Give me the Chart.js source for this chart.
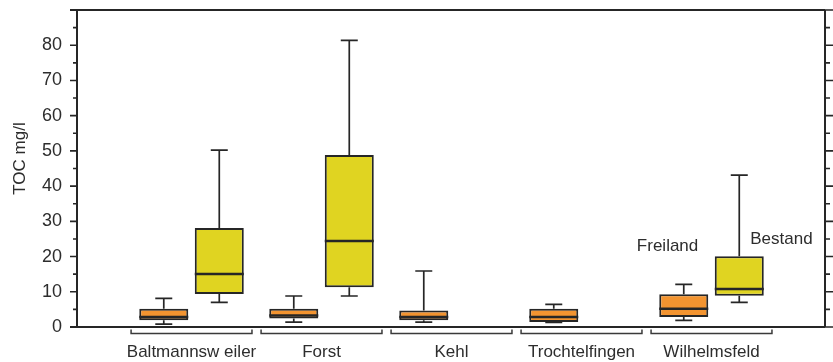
<!DOCTYPE html>
<html>
<head>
<meta charset="utf-8">
<script src="https://cdn.jsdelivr.net/npm/chart.js@4"></script>
<style>
  body { margin: 0; background: #fff; }
  #wrap { width: 833px; height: 362px; }
</style>
</head>
<body>
<div id="wrap"><canvas id="tocChart"></canvas></div>
<script>
// ================================
// DATA
// ================================

const categories = ["Baltmannsw eiler", "Forst", "Kehl", "Trochtelfingen", "Wilhelmsfeld"];

const freilandMin    = [0.8, 1.4, 1.4, 1.3, 1.9];
const freilandQ1     = [1.9, 2.4, 1.9, 1.4, 2.85];
const freilandMedian = [2.85, 3.3, 2.85, 2.85, 5.2];
const freilandQ3     = [5.2, 5.2, 4.7, 5.2, 9.3];
const freilandMax    = [8.1, 8.8, 15.9, 6.4, 12.1];

const bestandMin    = [7.0, 8.8, null, null, 7.0];
const bestandQ1     = [9.4, 11.3, null, null, 8.9];
const bestandMedian = [15.05, 24.4, null, null, 10.8];
const bestandQ3     = [28.1, 48.8, null, null, 20.1];
const bestandMax    = [50.2, 81.4, null, null, 43.1];

const yTickLabels = [0, 10, 20, 30, 40, 50, 60, 70, 80];

const stats = [
    { min: freilandMin, med: freilandMedian, max: freilandMax },
    { min: bestandMin, med: bestandMedian, max: bestandMax }
];

const FONT = "'Liberation Sans', Arial, sans-serif";
const INK = "#262626";
const TEXT = "#2d2d2d";

// ================================
// BOX PLOT PLUGIN
// ================================

const boxPlugin = {
    id: "boxPlot",

    afterDatasetsDraw(chart) {
        const ctx = chart.ctx;
        const y = chart.scales.y;

        ctx.save();
        ctx.strokeStyle = INK;

        stats.forEach((s, d) => {
            const meta = chart.getDatasetMeta(d);
            meta.data.forEach((bar, i) => {
                if (s.med[i] == null) return;
                const raw = chart.data.datasets[d].data[i].y;
                const cx = bar.x;
                const half = bar.width / 2;
                const cap = 8.5;

                // whiskers
                ctx.lineWidth = 1.7;
                ctx.beginPath();
                ctx.moveTo(cx, y.getPixelForValue(raw[1]));
                ctx.lineTo(cx, y.getPixelForValue(s.max[i]));
                ctx.moveTo(cx - cap, y.getPixelForValue(s.max[i]));
                ctx.lineTo(cx + cap, y.getPixelForValue(s.max[i]));
                ctx.moveTo(cx, y.getPixelForValue(raw[0]));
                ctx.lineTo(cx, y.getPixelForValue(s.min[i]));
                ctx.moveTo(cx - cap, y.getPixelForValue(s.min[i]));
                ctx.lineTo(cx + cap, y.getPixelForValue(s.min[i]));
                ctx.stroke();

                // median
                ctx.lineWidth = 2.5;
                ctx.beginPath();
                ctx.moveTo(cx - half, y.getPixelForValue(s.med[i]));
                ctx.lineTo(cx + half, y.getPixelForValue(s.med[i]));
                ctx.stroke();
            });
        });

        ctx.restore();
    },

    afterDraw(chart) {
        const ctx = chart.ctx;
        const a = chart.chartArea;
        const x = chart.scales.x;
        const y = chart.scales.y;

        ctx.save();
        ctx.strokeStyle = INK;

        // frame
        ctx.lineWidth = 2;
        ctx.beginPath();
        ctx.moveTo(a.left - 7, a.top);
        ctx.lineTo(a.right, a.top);
        ctx.moveTo(a.left - 7, a.bottom);
        ctx.lineTo(a.right, a.bottom);
        ctx.moveTo(a.left, a.top);
        ctx.lineTo(a.left, a.bottom);
        ctx.moveTo(a.right, a.top);
        ctx.lineTo(a.right, a.bottom);
        ctx.stroke();

        // tick marks, left and right
        ctx.lineWidth = 1.6;
        ctx.beginPath();
        for (let v = 0; v <= 90; v += 5) {
            const py = y.getPixelForValue(v);
            const major = v % 10 === 0;
            ctx.moveTo(a.left - (major ? 7 : 4), py);
            ctx.lineTo(a.left, py);
            ctx.moveTo(a.right, py);
            ctx.lineTo(a.right + (major ? 8 : 5), py);
        }
        ctx.stroke();

        // group brackets
        ctx.strokeStyle = "#3a3a3a";
        ctx.lineWidth = 1.5;
        ctx.beginPath();
        categories.forEach((c, i) => {
            const x0 = x.getPixelForValue(i - 0.465);
            const x1 = x.getPixelForValue(i + 0.465);
            const by = a.bottom + 6.5;
            ctx.moveTo(x0, by - 4);
            ctx.lineTo(x0, by);
            ctx.lineTo(x1, by);
            ctx.lineTo(x1, by - 4);
        });
        ctx.stroke();

        // axis title
        ctx.fillStyle = TEXT;
        ctx.font = "17px " + FONT;
        ctx.textAlign = "center";
        ctx.textBaseline = "middle";
        ctx.save();
        ctx.translate(20, (a.top + a.bottom) / 2 - 10);
        ctx.rotate(-Math.PI / 2);
        ctx.fillText("TOC mg/l", 0, 0);
        ctx.restore();

        // series labels
        ctx.fillText("Freiland", x.getPixelForValue(3.662), y.getPixelForValue(23.0));
        ctx.fillText("Bestand", x.getPixelForValue(4.538), y.getPixelForValue(24.9));

        ctx.restore();
    }
};

// ================================
// CHART
// ================================

const toPoints = (lo, hi) =>
    categories.map((c, i) => ({
        x: i,
        y: lo[i] == null ? null : [lo[i], hi[i]]
    }));

new Chart(document.getElementById("tocChart"), {
    type: "bar",

    data: {
        datasets: [
            {
                label: "Freiland",
                data: toPoints(freilandQ1, freilandQ3),
                backgroundColor: "#f39430",
                borderColor: INK,
                borderWidth: 2,
                borderSkipped: false
            },
            {
                label: "Bestand",
                data: toPoints(bestandQ1, bestandQ3),
                backgroundColor: "#e0d421",
                borderColor: INK,
                borderWidth: 2,
                borderSkipped: false
            }
        ]
    },

    options: {
        responsive: true,
        maintainAspectRatio: false,
        animation: false,
        categoryPercentage: 0.854,
        barPercentage: 0.883,

        layout: {
            padding: { top: 10, right: 8, left: 0, bottom: 0 }
        },

        plugins: {
            legend: { display: false },
            tooltip: { enabled: false }
        },

        scales: {
            x: {
                type: "linear",
                offset: false,
                min: -0.881,
                max: 4.873,
                grid: { display: false, drawTicks: false },
                border: { display: false },
                afterBuildTicks: scale => {
                    scale.ticks = categories.map((c, i) => ({ value: i }));
                },
                afterFit: scale => {
                    scale.height = 35;
                    scale.paddingLeft = 0;
                    scale.paddingRight = 0;
                },
                ticks: {
                    autoSkip: false,
                    maxRotation: 0,
                    padding: 15,
                    color: TEXT,
                    font: { family: FONT, size: 17 },
                    callback: value => categories[value] ?? ""
                }
            },

            y: {
                min: 0,
                max: 90,
                grid: { display: false, drawTicks: false },
                border: { display: false },
                afterBuildTicks: scale => {
                    scale.ticks = yTickLabels.map(v => ({ value: v }));
                },
                afterFit: scale => {
                    scale.width = 77;
                    scale.paddingTop = 0;
                    scale.paddingBottom = 0;
                },
                ticks: {
                    padding: 15,
                    color: TEXT,
                    font: { family: FONT, size: 18 }
                }
            }
        }
    },

    plugins: [boxPlugin]
});
</script>
</body>
</html>
